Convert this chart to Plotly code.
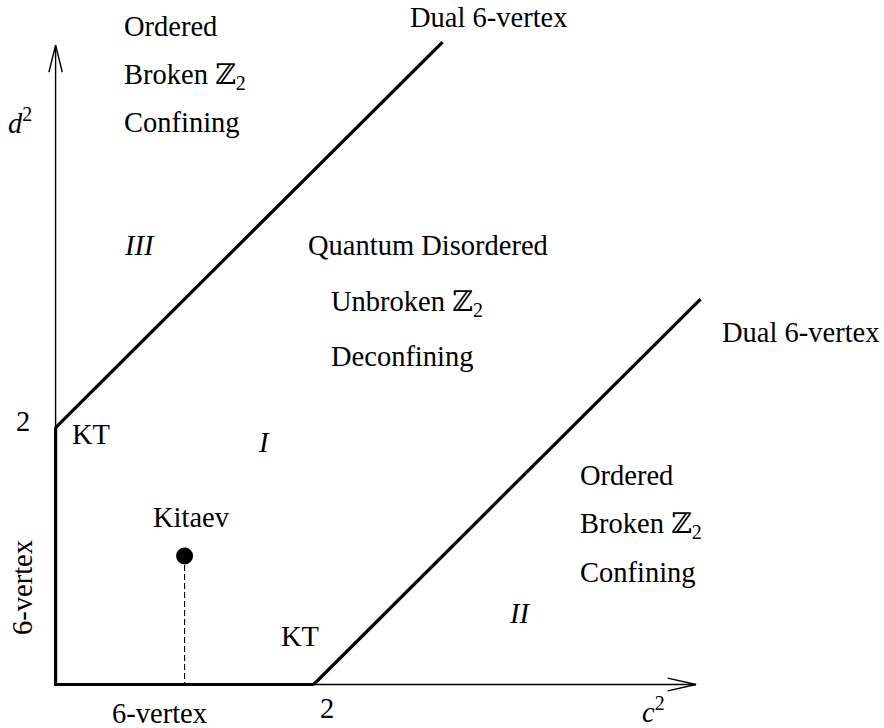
import plotly.graph_objects as go

# ---- data (phase diagram in the (c^2, d^2) plane) ----
axis_x_c = [0, 4.965]
axis_x_d = [0, 0]
axis_y_c = [0, 0]
axis_y_d = [0, 4.975]

six_vertex_c = [0, 0, 2]
six_vertex_d = [2, 0, 0]

upper_dual_c = [0, 3]
upper_dual_d = [2, 5]

lower_dual_c = [2, 5]
lower_dual_d = [0, 3]

kitaev_c = [1]
kitaev_d = [1]
kitaev_drop_c = [1, 1]
kitaev_drop_d = [1, 0]

# arrowheads (open chevrons)
xarrow_c = [4.745, 4.965, 4.745]
xarrow_d = [0.05, 0, -0.05]
yarrow_c = [-0.052, 0, 0.052]
yarrow_d = [4.765, 4.975, 4.765]

FONT = "Liberation Serif, DejaVu Serif, serif"
FS = 28.5

fig = go.Figure()

def line(xs, ys, w, dash="solid"):
    fig.add_trace(go.Scatter(x=xs, y=ys, mode="lines",
                             line=dict(color="black", width=w, dash=dash),
                             hoverinfo="skip", showlegend=False))

line(axis_x_c, axis_x_d, 1.4)
line(axis_y_c, axis_y_d, 1.4)
line(xarrow_c, xarrow_d, 1.4)
line(yarrow_c, yarrow_d, 1.4)
line(six_vertex_c, six_vertex_d, 3.2)
line(upper_dual_c, upper_dual_d, 3.2)
line(lower_dual_c, lower_dual_d, 3.2)
line(kitaev_drop_c, kitaev_drop_d, 1.1, dash="6px,3px")
fig.add_trace(go.Scatter(x=kitaev_c, y=kitaev_d, mode="markers",
                         marker=dict(color="black", size=17),
                         hoverinfo="skip", showlegend=False))

labels = [
    # text, c, d, xanchor, angle
    ("Ordered", 0.515, 5.117, "left", 0),
    ("Broken ℤ<sub>2</sub>", 0.515, 4.728, "left", 0),
    ("Confining", 0.515, 4.37, "left", 0),
    ("<i>d</i><sup>2</sup>", -0.276, 4.385, "center", 0),
    ("Dual 6-vertex", 3.356, 5.187, "center", 0),
    ("<i>III</i>", 0.515, 3.42, "left", 0),
    ("Quantum Disordered", 1.941, 3.42, "left", 0),
    ("Unbroken ℤ<sub>2</sub>", 2.119, 2.969, "left", 0),
    ("Deconfining", 2.119, 2.556, "left", 0),
    ("Dual 6-vertex", 5.778, 2.743, "center", 0),
    ("2", -0.249, 2.043, "center", 0),
    ("KT", 0.274, 1.942, "center", 0),
    ("<i>I</i>", 1.616, 1.887, "center", 0),
    ("Ordered", 4.05, 1.630, "left", 0),
    ("Broken ℤ<sub>2</sub>", 4.05, 1.241, "left", 0),
    ("Confining", 4.05, 0.875, "left", 0),
    ("<i>II</i>", 3.593, 0.556, "center", 0),
    ("Kitaev", 1.057, 1.303, "center", 0),
    ("KT", 1.895, 0.370, "center", 0),
    ("2", 2.104, -0.185, "center", 0),
    ("6-vertex", 0.809, -0.228, "center", 0),
    ("6-vertex", -0.253, 0.759, "center", -90),
    ("<i>c</i><sup>2</sup>", 4.632, -0.2, "center", 0),
]
for t, c, d, xa, ang in labels:
    fig.add_annotation(x=c, y=d, text=t, showarrow=False, xref="x", yref="y",
                       xanchor=xa, yanchor="middle", textangle=ang,
                       font=dict(family=FONT, size=FS, color="black"))

fig.update_layout(
    width=884, height=728,
    margin=dict(l=0, r=0, t=0, b=0),
    paper_bgcolor="white", plot_bgcolor="white",
    xaxis=dict(range=[-0.431, 6.422], visible=False, fixedrange=True),
    yaxis=dict(range=[-0.3385, 5.327], visible=False, fixedrange=True),
)

fig.write_html(
    "out.html",
    config={"displayModeBar": False},
    post_script="document.body.style.margin='0';document.body.style.overflow='hidden';",
)
